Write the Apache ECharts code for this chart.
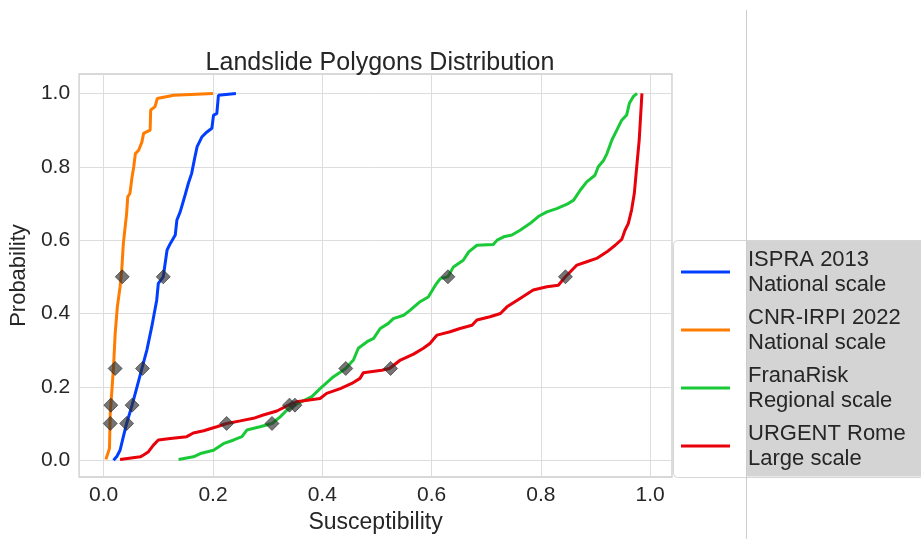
<!DOCTYPE html>
<html>
<head>
<meta charset="utf-8">
<script src="https://cdn.jsdelivr.net/npm/echarts@6/dist/echarts.min.js"></script>
<style>html,body{margin:0;padding:0;background:#fff}#c{width:921px;height:539px}</style>
</head>
<body>
<div id="c"></div>
<script>
// ---- data ----
const seriesNames = ['ISPRA 2013\nNational scale', 'CNR-IRPI 2022\nNational scale', 'FranaRisk\nRegional scale', 'URGENT Rome\nLarge scale'];
const xTicks = [0, 0.2, 0.4, 0.6, 0.8, 1.0];
const yTicks = [0, 0.2, 0.4, 0.6, 0.8, 1.0];

const ispraX = [0.018,0.024,0.030,0.036,0.042,0.052,0.061,0.070,0.079,0.088,0.097,0.100,0.109,0.116,0.122,0.131,0.134,0.140,0.149,0.155,0.161,0.167,0.171,0.180,0.189,0.198,0.201,0.207,0.210,0.213,0.242];
const ispraY = [0.000,0.010,0.027,0.064,0.100,0.150,0.200,0.250,0.300,0.364,0.436,0.482,0.500,0.573,0.591,0.614,0.655,0.677,0.723,0.755,0.782,0.827,0.855,0.882,0.895,0.905,0.941,0.945,0.995,1.000,1.000];

const cnrX = [0.004,0.008,0.0106,0.012,0.015,0.018,0.021,0.025,0.030,0.033,0.036,0.042,0.044,0.048,0.052,0.055,0.058,0.064,0.070,0.073,0.085,0.086,0.094,0.098,0.128,0.200];
const cnrY = [0.002,0.020,0.032,0.127,0.190,0.254,0.345,0.418,0.473,0.518,0.591,0.673,0.718,0.727,0.773,0.800,0.836,0.845,0.868,0.891,0.900,0.955,0.964,0.986,0.995,1.000];

const franaX = [0.137,0.164,0.177,0.201,0.219,0.238,0.253,0.262,0.286,0.308,0.323,0.335,0.349,0.381,0.396,0.420,0.443,0.457,0.466,0.482,0.494,0.506,0.521,0.530,0.549,0.561,0.579,0.594,0.607,0.616,0.630,0.640,0.658,0.668,0.683,0.713,0.720,0.732,0.747,0.762,0.780,0.796,0.811,0.829,0.848,0.860,0.872,0.884,0.899,0.905,0.915,0.921,0.930,0.939,0.948,0.957,0.962,0.969,0.976];
const franaY = [0.002,0.009,0.018,0.027,0.045,0.055,0.064,0.082,0.091,0.100,0.118,0.136,0.150,0.173,0.195,0.227,0.250,0.273,0.305,0.323,0.332,0.359,0.373,0.386,0.395,0.409,0.432,0.445,0.477,0.495,0.500,0.527,0.545,0.568,0.586,0.588,0.600,0.609,0.614,0.627,0.645,0.665,0.677,0.686,0.698,0.709,0.736,0.759,0.777,0.800,0.818,0.836,0.873,0.900,0.927,0.941,0.973,0.991,1.000];

const urgentX = [0.030,0.067,0.073,0.082,0.091,0.100,0.122,0.152,0.164,0.183,0.207,0.225,0.250,0.274,0.292,0.317,0.338,0.353,0.396,0.408,0.433,0.454,0.469,0.475,0.509,0.523,0.543,0.567,0.585,0.597,0.610,0.634,0.652,0.674,0.683,0.707,0.726,0.738,0.762,0.786,0.811,0.832,0.845,0.866,0.884,0.902,0.921,0.936,0.948,0.954,0.960,0.966,0.971,0.976,0.980,0.985];
const urgentY = [0.002,0.009,0.014,0.023,0.041,0.055,0.059,0.064,0.074,0.080,0.091,0.100,0.107,0.114,0.123,0.134,0.150,0.159,0.168,0.182,0.195,0.209,0.223,0.238,0.245,0.250,0.273,0.289,0.305,0.318,0.341,0.350,0.359,0.368,0.382,0.391,0.400,0.418,0.441,0.464,0.473,0.477,0.500,0.532,0.541,0.550,0.568,0.586,0.602,0.627,0.645,0.682,0.727,0.809,0.873,1.000];

// quantile markers at these probabilities
const markerProbs = [0.10, 0.15, 0.25, 0.50];
const ispraMarkX  = [0.042, 0.052, 0.071, 0.109];
const cnrMarkX    = [0.012, 0.013, 0.021, 0.034];
const franaMarkX  = [0.308, 0.350, 0.443, 0.630];
const urgentMarkX = [0.225, 0.340, 0.525, 0.845];

// ---- chart ----
const colors = ['#023eff', '#ff7c00', '#1ac938', '#e8000b'];
const zip = (xs, ys) => xs.map((x, i) => [x, ys[i]]);
const FONT = "'Liberation Sans', Arial, sans-serif";
const TXT = '#262626';

const lineData = [zip(ispraX, ispraY), zip(cnrX, cnrY), zip(franaX, franaY), zip(urgentX, urgentY)];
const markerData = [];
[ispraMarkX, cnrMarkX, franaMarkX, urgentMarkX].forEach(arr => {
  arr.forEach((x, i) => markerData.push([x, markerProbs[i]]));
});

const series = lineData.map((d, i) => ({
  name: seriesNames[i],
  type: 'line',
  data: d,
  showSymbol: false,
  symbol: 'none',
  lineStyle: { width: 3, color: colors[i] },
  itemStyle: { color: colors[i] },
  z: 3
}));
series.push({
  name: 'markers',
  type: 'scatter',
  data: markerData,
  symbol: 'diamond',
  symbolSize: 14,
  itemStyle: { color: 'rgba(45,45,45,0.82)', borderColor: 'rgba(30,30,30,0.9)', borderWidth: 0.8 },
  z: 4
});

const chart = echarts.init(document.getElementById('c'), null, { renderer: 'canvas' });
chart.setOption({
  animation: false,
  backgroundColor: '#fff',
  title: {
    text: 'Landslide Polygons Distribution',
    left: 375, textAlign: 'center', top: 46,
    textStyle: { fontFamily: FONT, fontSize: 25, fontWeight: 'normal', color: TXT }
  },
  grid: { left: 79, right: 249, top: 74, bottom: 62, show: true, borderColor: '#cccccc', borderWidth: 1.3, backgroundColor: 'transparent' },
  xAxis: {
    type: 'value', min: -0.045, max: 1.04,
    name: 'Susceptibility', nameLocation: 'middle', nameGap: 32,
    nameTextStyle: { fontFamily: FONT, fontSize: 23, color: TXT },
    axisLine: { show: false },
    axisTick: { show: false, customValues: xTicks },
    axisLabel: { customValues: xTicks, formatter: v => v.toFixed(1), fontFamily: FONT, fontSize: 21, color: TXT, margin: 8 },
    splitLine: { show: true, lineStyle: { color: '#dddddd', width: 1 } }
  },
  yAxis: {
    type: 'value', min: -0.046, max: 1.053,
    name: 'Probability', nameLocation: 'middle', nameGap: 44,
    nameTextStyle: { fontFamily: FONT, fontSize: 22, color: TXT },
    axisLine: { show: false },
    axisTick: { show: false, customValues: yTicks },
    axisLabel: { customValues: yTicks, formatter: v => v.toFixed(1), fontFamily: FONT, fontSize: 21, color: TXT, margin: 9 },
    splitLine: { show: true, lineStyle: { color: '#dddddd', width: 1 } }
  },
  legend: {
    data: seriesNames,
    orient: 'vertical',
    left: 673, top: 240,
    padding: [7, 40, 6, 8],
    itemWidth: 49, itemHeight: 3, itemGap: 8,
    icon: 'rect',
    backgroundColor: 'transparent',
    borderWidth: 0,
    z: 10,
    textStyle: { fontFamily: FONT, fontSize: 22, color: TXT, lineHeight: 25, padding: [0, 0, 0, 13] }
  },
  graphic: [
    { type: 'rect', z: 1, shape: { x: 673.5, y: 240.5, width: 270, height: 237, r: 4 }, style: { fill: '#ffffff', stroke: '#d6d6d6', lineWidth: 1 } },
    { type: 'rect', z: 2, shape: { x: 746, y: 241, width: 175, height: 235.5 }, style: { fill: '#d4d4d4' } },
    { type: 'line', z: 2, shape: { x1: 746.5, y1: 10, x2: 746.5, y2: 539 }, style: { stroke: '#cccccc', lineWidth: 1 } }
  ],
  series: series
});
</script>
</body>
</html>
